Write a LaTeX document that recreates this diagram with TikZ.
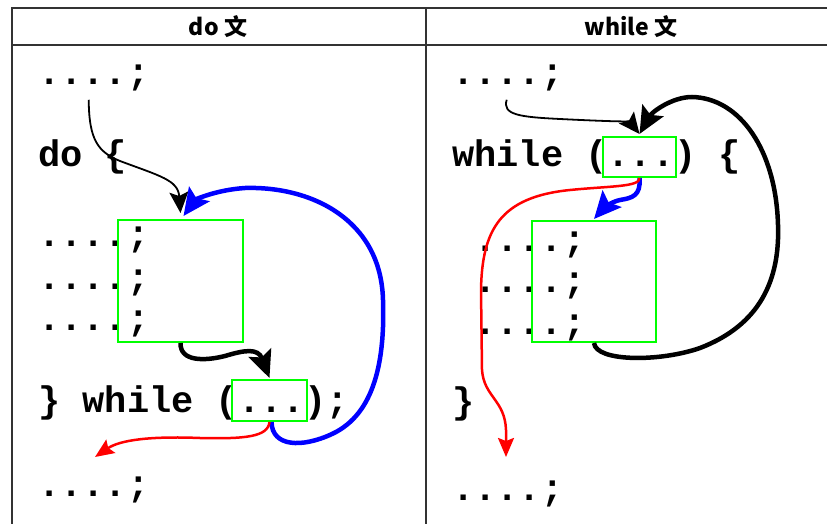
\documentclass[tikz,border=0pt]{standalone}
\usepackage{fontspec}
\setmonofont{Liberation Mono}
\newfontfamily\headfont{Noto Sans CJK SC}
\usepackage{tikz}
\usetikzlibrary{arrows.meta, calc}
\definecolor{rulegray}{HTML}{333333}
\definecolor{boxgreen}{HTML}{00FF00}
\definecolor{exitred}{HTML}{FF0000}
\definecolor{loopblue}{HTML}{0000FF}

\begin{document}
\begin{tikzpicture}[
    x=1pt, y=-1pt,
    code/.style={anchor=base west, inner sep=0pt, font=\ttfamily\bfseries\fontsize{37}{37}\selectfont},
    head/.style={inner sep=0pt, font=\headfont\bfseries\fontsize{23}{23}\selectfont},
    greenbox/.style={rectangle, draw=boxgreen, line width=2pt, inner sep=0pt},
    rule/.style={draw=rulegray, line width=2pt},
    thinflow/.style={line width=1.8pt, -{Stealth[length=21pt, width=19pt, inset=4pt]}},
    thickflow/.style={line width=4.5pt, -{Stealth[length=27pt, width=24pt, inset=5pt]}},
    loopflow/.style={draw=loopblue, line width=4.5pt, -{Stealth[length=27pt, width=25pt, inset=5pt]}},
    exitflow/.style={draw=exitred, line width=2.5pt, -{Stealth[length=19pt, width=16pt, inset=3pt]}}
]
\useasboundingbox (0,0) rectangle (827,524);

% Table
\draw[rule] (827,8) -- (12,8) -- (12,524);
\draw[rule] (12,45) -- (827,45);
\draw[rule] (426,8) -- (426,524);
\node[head] (dohead) at (218,27) {do 文};
\node[head] (whilehead) at (631,27) {while 文};

% do column
\node[code] (top1) at (38,85) {....;};
\node[code] (doline) at (38,166) {do \{};
\node[code] (body1) at (38,246) {....;};
\node[code] (body2) at (38,289) {....;};
\node[code] (body3) at (38,330) {....;};
\node[code] (whileline) at (38,412) {\} while (...);};
\node[code] (after1) at (38,496) {....;};

\node[greenbox, minimum width=125pt, minimum height=122pt] (dobody) at (180.5,281) {};
\node[greenbox, minimum width=75pt, minimum height=41pt] (docond) at (269.5,400.5) {};
\coordinate (doexit) at (95,457);

% while column
\node[code] (wtop) at (452,85) {....;};
\node[code] (wline) at (452,167) {while (...) \{};
\node[code] (wbody1) at (474,251) {....;};
\node[code] (wbody2) at (474,292) {....;};
\node[code] (wbody3) at (474,334) {....;};
\node[code] (wclose) at (452,413) {\}};
\node[code] (wafter) at (452,500) {....;};

\node[greenbox, minimum width=124pt, minimum height=121pt] (whbody) at (594,281.5) {};
\node[greenbox, minimum width=73pt, minimum height=40pt] (whcond) at (639.5,157) {};
\coordinate (wexit) at (506,457);

% Connections (do)
\draw[thinflow] ([xshift=-5pt,yshift=-8pt]top1.south) .. controls (89,140) and (98,152) .. (120,161)
    .. controls (160,176) and (178,180) .. ([yshift=6pt]dobody.north);
\draw[loopflow] ([xshift=2pt]docond.south) .. controls (272,447) and (302,448) .. (332,434)
    .. controls (375,414) and (385,360) .. (383,300)
    .. controls (381,220) and (312,186) .. (245,188)
    .. controls (215,190) and (195,200) .. ([xshift=3pt,yshift=3pt]dobody.north);
\draw[thickflow] (dobody.south) .. controls (180,362) and (205,361) .. (225,356)
    .. controls (245,350) and (258,348) .. ([yshift=1pt]docond.north);
\draw[exitflow] (docond.south) .. controls (268,437) and (245,439) .. (200,438)
    .. controls (150,436) and (120,440) .. (doexit);

% Connections (while)
\draw[thinflow] ([xshift=-1pt,yshift=-8pt]wtop.south) .. controls (502,115) and (520,117) .. (560,119)
    .. controls (600,121) and (630,122) .. ([yshift=2pt]whcond.north);
\draw[thickflow] (whbody.south) .. controls (596,362) and (660,362) .. (700,348)
    .. controls (760,325) and (780,280) .. (778,225)
    .. controls (776,150) and (740,98) .. (692,97)
    .. controls (672,97) and (652,112) .. ([yshift=2pt]whcond.north);
\draw[loopflow] (whcond.south) .. controls (641,196) and (632,198) .. (620,200)
    .. controls (610,202) and (602,210) .. ([yshift=1pt]whbody.north);
\draw[exitflow] (whcond.south) .. controls (640,187) and (610,186) .. (570,190)
    .. controls (500,197) and (482,230) .. (481,290) -- (482,370)
    .. controls (484,397) and (505,400) .. (506,430) -- (wexit);
\end{tikzpicture}
\end{document}
